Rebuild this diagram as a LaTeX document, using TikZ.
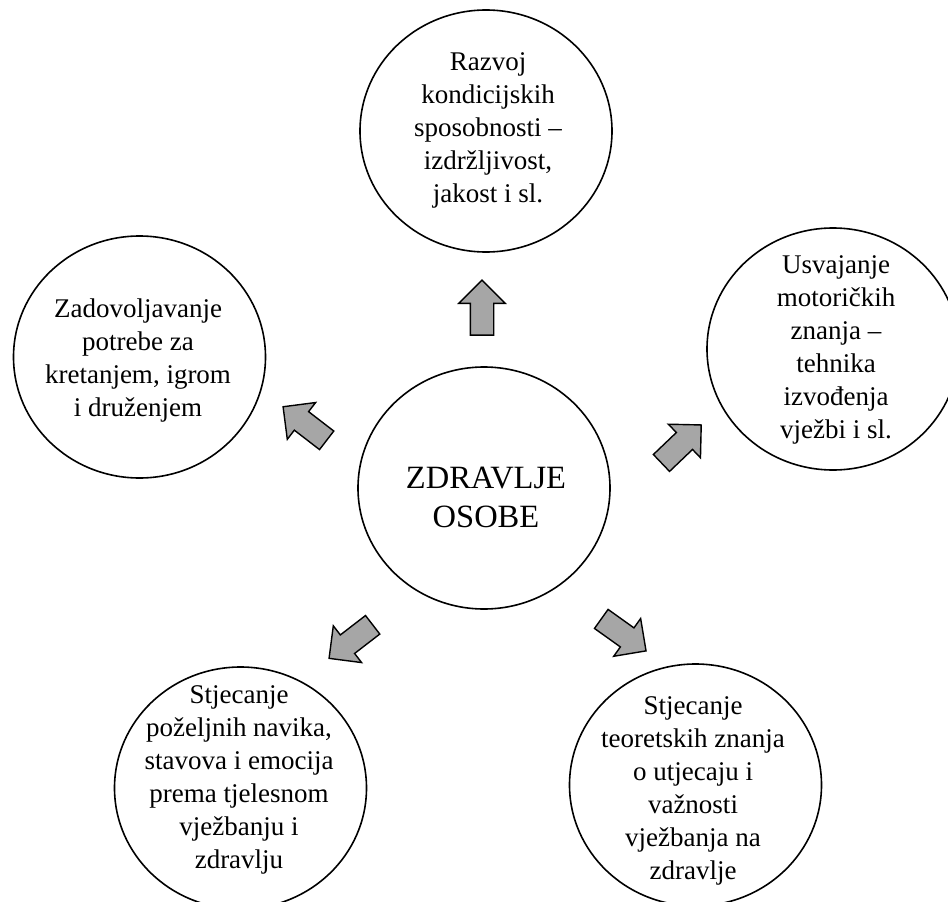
\documentclass[tikz,border=0pt]{standalone}
\usepackage{fontspec}
\setmainfont{Liberation Serif}
\usetikzlibrary{shapes.geometric,shapes.arrows}
\definecolor{arrowgray}{HTML}{A6A6A6}
\begin{document}
\begin{tikzpicture}[x=1pt,y=-1pt,
  bubble/.style={draw, ellipse, line width=1.6pt, minimum width=252pt, minimum height=242pt, inner sep=0pt},
  btext/.style={align=center, font=\fontsize{27}{33}\selectfont, inner sep=0pt},
  ctext/.style={align=center, font=\fontsize{32.5}{39}\selectfont, inner sep=0pt},
  blockarrow/.style={single arrow, draw, line width=1.4pt, fill=arrowgray, minimum height=55pt, inner sep=11pt, single arrow head extend=11.5pt, single arrow head indent=0pt, single arrow tip angle=90},
]
\fill[white] (0,0) rectangle (948,902);
\useasboundingbox (0,0) rectangle (948,902);

% circles
\node[bubble] (c)  at (484,488) {};
\node[bubble] (t)  at (486,131) {};
\node[bubble] (l)  at (139.5,357) {};
\node[bubble] (r)  at (833,349) {};
\node[bubble] (bl) at (240.5,788) {};
\node[bubble] (br) at (695.5,785) {};

% texts
\node[ctext] (ct) at (486,497) {ZDRAVLJE\\OSOBE};
\node[btext] (tt) at (488,130) {Razvoj\\kondicijskih\\sposobnosti –\\izdržljivost,\\jakost i sl.};
\node[btext] (lt) at (138,361) {Zadovoljavanje\\potrebe za\\kretanjem, igrom\\i druženjem};
\node[btext] (rt) at (836,350) {Usvajanje\\motoričkih\\znanja –\\tehnika\\izvođenja\\vježbi i sl.};
\node[btext] (blt) at (239,780) {Stjecanje\\poželjnih navika,\\stavova i emocija\\prema tjelesnom\\vježbanju i\\zdravlju};
\node[btext] (brt) at (693,791) {Stjecanje\\teoretskih znanja\\o utjecaju i\\važnosti\\vježbanja na\\zdravlje};

% block arrows
\node[blockarrow, rotate=90]    (at)  at (482,313.5) {};
\node[blockarrow, rotate=142.4] (al)  at (309.5,427.1) {};
\node[blockarrow, rotate=43.7]  (ar)  at (677.1,448) {};
\node[blockarrow, rotate=217.6] (abl) at (355.5,638) {};
\node[blockarrow, rotate=-35.5] (abr) at (618.9,631.5) {};
\end{tikzpicture}
\end{document}
